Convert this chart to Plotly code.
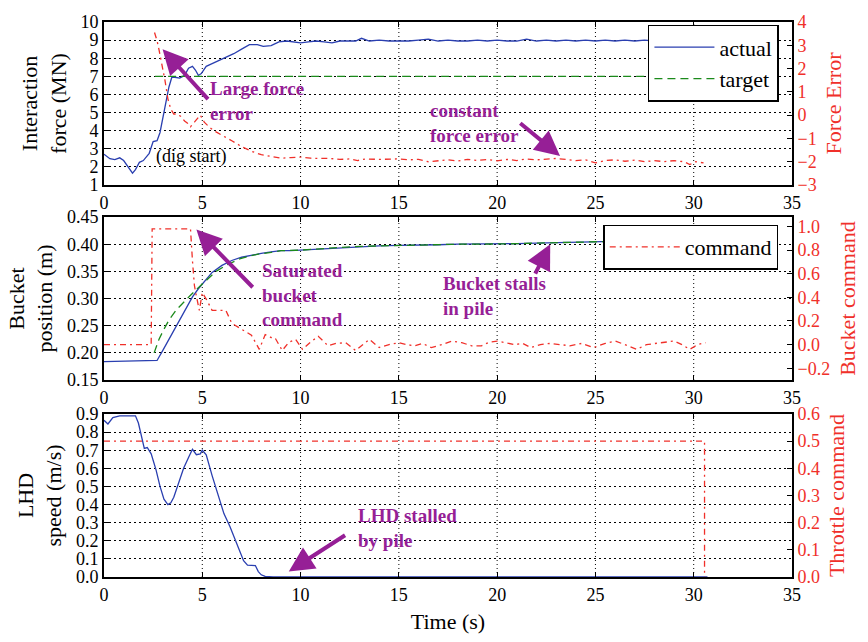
import plotly.graph_objects as go

# ---------------- data ----------------
t_force = [0, 0.3, 0.55, 0.8, 1.0, 1.2, 1.45, 1.6, 1.8, 2.0, 2.3, 2.5, 2.7, 2.85, 3.0, 3.15, 3.3, 3.45,
           3.6, 3.85, 4.1, 4.3, 4.5, 4.65, 4.8, 4.95, 5.2, 5.5, 5.8, 6.2, 6.6, 7.0, 7.4, 7.8, 8.1, 8.5,
           8.9, 9.3, 9.7, 10.0, 10.4, 10.8, 11.2, 11.6, 12.0, 12.4, 12.8, 13.1, 13.5, 14.0, 14.5, 15.0,
           15.5, 16.0, 16.5, 17.0, 17.5, 18.0, 18.5, 19.0, 19.5, 20.0, 20.5, 21.0, 21.5, 22.0, 22.5,
           23.0, 23.5, 24.0, 24.5, 25.0, 25.5, 26.0, 26.5, 27.0, 27.5, 28.0, 29.0, 30.0, 30.7]
force_actual = [2.7, 2.45, 2.4, 2.5, 2.35, 2.05, 1.65, 1.85, 2.25, 2.35, 2.75, 3.4, 3.45, 3.9, 4.8, 5.7,
                6.4, 6.95, 6.95, 6.9, 7.05, 7.45, 7.55, 7.35, 7.05, 7.15, 7.55, 7.7, 7.85, 8.05, 8.25,
                8.5, 8.75, 8.75, 8.65, 8.7, 8.9, 8.95, 8.9, 8.85, 8.9, 8.95, 8.9, 8.85, 8.95, 8.95, 8.95,
                9.1, 8.95, 9.0, 8.95, 8.95, 8.95, 9.0, 9.05, 8.95, 9.0, 8.95, 8.95, 9.0, 8.95, 9.0, 8.95,
                8.95, 9.05, 8.95, 9.0, 8.95, 9.0, 8.95, 9.0, 8.95, 9.0, 8.95, 9.0, 8.95, 9.0, 8.95, 8.95,
                9.0, 8.95]
t_target = [2.6, 30.7]
force_target = [7.0, 7.0]

t_err = [2.57, 2.7, 2.8, 2.9, 3.0, 3.1, 3.25, 3.4, 3.55, 3.7, 3.9, 4.1, 4.25, 4.4, 4.6, 4.8, 4.9, 5.1,
         5.4, 5.7, 6.1, 6.5, 7.0, 7.5, 8.0, 8.5, 9.0, 9.5, 10.0, 10.5, 11.0, 11.5, 12.0, 12.5, 12.9,
         13.3, 14.0, 14.5, 15.0, 15.5, 16.0, 16.5, 17.0, 17.5, 18.0, 18.5, 19.0, 19.5, 20.0, 20.5,
         21.0, 21.5, 22.0, 22.5, 23.0, 23.5, 24.0, 24.5, 25.0, 25.5, 26.0, 26.5, 27.0, 27.5, 28.0,
         28.5, 29.0, 29.5, 29.8, 30.1, 30.5]
force_error = [3.55, 3.2, 2.8, 2.4, 2.05, 1.5, 0.7, 0.25, 0.05, 0.05, -0.05, -0.25, -0.35, -0.5, -0.3,
               -0.1, 0.0, -0.3, -0.55, -0.72, -0.9, -1.1, -1.35, -1.55, -1.7, -1.78, -1.85, -1.82,
               -1.8, -1.85, -1.84, -1.86, -1.9, -1.88, -1.95, -1.88, -1.9, -1.88, -1.88, -1.92, -1.9,
               -2.0, -1.95, -1.92, -1.97, -1.9, -1.95, -1.9, -1.96, -1.9, -1.95, -1.88, -1.92, -1.9,
               -1.86, -1.9, -1.95, -1.92, -2.05, -1.95, -1.92, -1.98, -1.93, -2.0, -1.95, -2.0, -1.95,
               -2.0, -2.12, -2.0, -2.05]

t_bpos = [0, 1.0, 2.0, 2.7, 3.0, 3.5, 4.0, 4.5, 4.8, 5.1, 5.5, 6.0, 6.5, 7.0, 7.5, 8.0, 8.5, 9.0, 9.5,
          10.0, 10.5, 11.0, 11.5, 12.0, 13.0, 14.0, 15.0, 16.0, 17.0, 18.0, 19.0, 20.0, 21.0, 22.0,
          23.0, 24.0, 25.0, 26.0, 27.0, 28.0, 29.0, 30.0, 30.7]
bucket_actual = [0.184, 0.185, 0.185, 0.186, 0.205, 0.238, 0.27, 0.303, 0.318, 0.33, 0.348, 0.361,
                 0.37, 0.376, 0.38, 0.383, 0.386, 0.388, 0.388, 0.389, 0.391, 0.392, 0.392, 0.394,
                 0.396, 0.397, 0.398, 0.398, 0.399, 0.4, 0.4, 0.4, 0.401, 0.402, 0.403, 0.404, 0.405,
                 0.406, 0.406, 0.406, 0.407, 0.407, 0.407]
t_btgt = [2.55, 2.8, 3.0, 3.3, 3.7, 4.0, 4.4, 4.8, 5.2, 5.7, 6.2, 6.9, 7.5, 7.9, 8.5, 9.0, 10.0, 11.0,
          12.0, 13.0, 14.0, 15.0, 16.0, 17.0, 18.0, 19.0, 20.0, 21.0, 22.0, 23.0, 24.0, 25.0, 26.0,
          27.0, 28.0, 29.0, 30.0, 30.7]
bucket_target = [0.2, 0.225, 0.24, 0.26, 0.28, 0.292, 0.306, 0.32, 0.334, 0.35, 0.361, 0.373, 0.379,
                 0.382, 0.385, 0.388, 0.389, 0.392, 0.394, 0.396, 0.397, 0.398, 0.398, 0.399, 0.4,
                 0.4, 0.4, 0.401, 0.402, 0.403, 0.404, 0.405, 0.406, 0.406, 0.406, 0.407, 0.407, 0.407]

t_bcmd = [0, 2.4, 2.45, 4.4, 4.5, 4.6, 4.7, 4.85, 5.0, 5.2, 5.5, 6.2, 6.5, 6.9, 7.2, 7.5, 7.9, 8.2,
          8.5, 8.7, 9.07, 9.4, 9.75, 10.1, 10.5, 10.9, 11.4, 11.8, 12.3, 12.8, 13.5, 14.0, 14.5, 15.0,
          15.4, 15.8, 16.2, 16.65, 17.2, 17.7, 18.2, 18.7, 19.2, 19.6, 20.0, 20.5, 20.9, 21.3, 21.7,
          22.2, 22.7, 23.2, 23.7, 24.3, 24.9, 25.5, 26.0, 26.5, 27.1, 27.6, 28.0, 28.5, 29.0, 29.4,
          29.8, 30.2, 30.6]
bucket_cmd = [0.0, 0.0, 0.98, 0.98, 0.71, 0.5, 0.41, 0.29, 0.44, 0.385, 0.29, 0.29, 0.18, 0.14, 0.11,
              0.08, -0.04, 0.085, 0.06, 0.057, -0.05, 0.02, 0.044, -0.04, 0.02, 0.07, -0.01, 0.01,
              0.016, -0.05, 0.044, -0.025, 0.0, 0.016, 0.0, -0.01, 0.01, -0.025, 0.0, 0.03, 0.016,
              -0.01, -0.01, 0.02, 0.03, 0.01, 0.0, 0.01, -0.025, 0.0, 0.01, 0.0, -0.01, 0.01, -0.025,
              0.01, 0.03, 0.0, -0.04, 0.0, 0.01, 0.02, 0.03, 0.0, -0.04, 0.0, 0.016]

t_speed = [0, 0.2, 0.45, 0.8, 1.2, 1.6, 1.75, 1.9, 2.05, 2.2, 2.4, 2.65, 2.85, 3.05, 3.25, 3.4, 3.55,
           3.8, 4.05, 4.3, 4.5, 4.7, 4.9, 5.0, 5.2, 5.5, 5.8, 6.1, 6.4, 6.7, 6.9, 7.1, 7.3, 7.7, 7.85,
           8.0, 8.2, 8.6, 9.5, 10.0, 12.0, 15.0, 20.0, 25.0, 30.0, 30.7]
lhd_speed = [0.865, 0.845, 0.88, 0.89, 0.89, 0.89, 0.85, 0.77, 0.71, 0.715, 0.68, 0.59, 0.5, 0.43,
             0.4, 0.41, 0.44, 0.52, 0.6, 0.66, 0.705, 0.675, 0.68, 0.70, 0.675, 0.56, 0.45, 0.35,
             0.28, 0.2, 0.15, 0.09, 0.065, 0.063, 0.03, 0.012, 0.003, 0.0, 0.0, 0.0, 0.0, 0.0, 0.0,
             0.0, 0.0, 0.0]
t_throttle = [0, 30.55, 30.55]
throttle_cmd = [0.5, 0.5, 0.0]

x_ticks = [0, 5, 10, 15, 20, 25, 30, 35]

# ---------------- styles ----------------
BLUE = "#2a3fb0"
GREEN = "#1b8a1b"
RED = "#f0302a"
PURPLE = "#961f96"
FONT = "Liberation Serif"
DASHDOT = "6px,4px,2px,4px"
DASH = "8px,5px"
GRIDDASH = "1.5px,3.5px"

fig = go.Figure()

fig.add_trace(go.Scatter(x=t_force, y=force_actual, mode="lines", name="actual",
                         line=dict(color=BLUE, width=1.3), xaxis="x", yaxis="y", legend="legend"))
fig.add_trace(go.Scatter(x=t_target, y=force_target, mode="lines", name="target",
                         line=dict(color=GREEN, width=1.3, dash=DASH), xaxis="x", yaxis="y",
                         legend="legend"))
fig.add_trace(go.Scatter(x=t_err, y=force_error, mode="lines", name="force error", showlegend=False,
                         line=dict(color=RED, width=1.3, dash=DASHDOT), xaxis="x", yaxis="y2"))

fig.add_trace(go.Scatter(x=t_bpos, y=bucket_actual, mode="lines", showlegend=False,
                         line=dict(color=BLUE, width=1.3), xaxis="x2", yaxis="y3"))
fig.add_trace(go.Scatter(x=t_btgt, y=bucket_target, mode="lines", showlegend=False,
                         line=dict(color=GREEN, width=1.3, dash=DASH), xaxis="x2", yaxis="y3"))
fig.add_trace(go.Scatter(x=t_bcmd, y=bucket_cmd, mode="lines", name="command",
                         line=dict(color=RED, width=1.3, dash=DASHDOT), xaxis="x2", yaxis="y4",
                         legend="legend2"))

fig.add_trace(go.Scatter(x=t_speed, y=lhd_speed, mode="lines", showlegend=False,
                         line=dict(color=BLUE, width=1.3), xaxis="x3", yaxis="y5"))
fig.add_trace(go.Scatter(x=t_throttle, y=throttle_cmd, mode="lines", showlegend=False,
                         line=dict(color=RED, width=1.3, dash=DASHDOT), xaxis="x3", yaxis="y6"))

tickfont = dict(family=FONT, size=18, color="black")
redtick = dict(family=FONT, size=18, color=RED)
titlefont = dict(family=FONT, size=22, color="black")
redtitle = dict(family=FONT, size=22, color=RED)


def xax(anchor, title=None):
    d = dict(range=[0, 35], tickvals=x_ticks, anchor=anchor, domain=[0, 1], showline=True,
             linewidth=2, linecolor="black", mirror="ticks", ticks="inside", ticklen=5,
             tickcolor="black", showgrid=False, zeroline=False, tickfont=tickfont)
    if title:
        d["title"] = dict(text=title, font=titlefont, standoff=10)
    return d


def yax(dom, rng, dtick, fmt, title, anchor):
    return dict(domain=dom, range=rng, dtick=dtick, tickformat=fmt, anchor=anchor, showline=True,
                linewidth=2, linecolor="black", ticks="inside", ticklen=5, tickcolor="black",
                showgrid=True, gridcolor="black", griddash=GRIDDASH, gridwidth=1, zeroline=False,
                tickfont=tickfont, title=dict(text=title, font=titlefont, standoff=8))


def y2ax(over, anchor, rng, dtick, fmt, title):
    return dict(overlaying=over, anchor=anchor, side="right", range=rng, dtick=dtick,
                tickformat=fmt, showline=True, linewidth=2, linecolor="black", ticks="inside",
                ticklen=5, tickcolor="black", showgrid=False, zeroline=False, tickfont=redtick,
                title=dict(text=title, font=redtitle, standoff=10))


D_TOP = [0.7063, 1.0]
D_MID = [0.3549, 0.6486]
D_BOT = [0.0, 0.2937]

fig.update_layout(
    width=868, height=642,
    margin=dict(l=104, r=72, t=14, b=56),
    paper_bgcolor="white", plot_bgcolor="white",
    font=dict(family=FONT, size=18, color="black"),
    xaxis=xax("y"), xaxis2=xax("y3"), xaxis3=xax("y5", "Time (s)"),
    yaxis=yax(D_TOP, [1, 10], 1, "d", "Interaction<br>force (MN)", "x"),
    yaxis2=y2ax("y", "x", [-3, 4], 1, "d", "Force Error"),
    yaxis3=yax(D_MID, [0.15, 0.45], 0.05, ".2f", "Bucket<br>position (m)", "x2"),
    yaxis4=y2ax("y3", "x2", [-0.3, 1.08], 0.2, ".1f", "Bucket command"),
    yaxis5=yax(D_BOT, [0, 0.9], 0.1, ".1f", "LHD<br>speed (m/s)", "x3"),
    yaxis6=y2ax("y5", "x3", [0, 0.6], 0.1, ".1f", "Throttle command"),
    legend=dict(x=0.981, y=0.995, xanchor="right", yanchor="top", bgcolor="white",
                bordercolor="black", borderwidth=1.5, font=dict(family=FONT, size=22),
                itemwidth=60, tracegroupgap=0),
    legend2=dict(x=0.980, y=0.635, xanchor="right", yanchor="top", bgcolor="white",
                 bordercolor="black", borderwidth=1.5, font=dict(family=FONT, size=22),
                 itemwidth=70),
)

# vertical dotted grid lines at the inner x ticks of every panel, drawn as thin dotted traces
x_grid = x_ticks[1:-1]
y_ranges = {"y": [1, 10], "y3": [0.15, 0.45], "y5": [0, 0.9]}
for xr, yr in (("x", "y"), ("x2", "y3"), ("x3", "y5")):
    gx, gy = [], []
    for xv in x_grid:
        gx += [xv, xv, None]
        gy += [y_ranges[yr][0], y_ranges[yr][1], None]
    fig.add_trace(go.Scatter(x=gx, y=gy, mode="lines", showlegend=False, hoverinfo="skip",
                             line=dict(color="black", width=1, dash="1px,3px"),
                             xaxis=xr, yaxis=yr))
# move the grid traces to the back
fig.data = fig.data[-3:] + fig.data[:-3]

ann_font = dict(family=FONT, size=19, color=PURPLE)


def arrow(xref, yref, x, y, ax, ay):
    fig.add_annotation(x=x, y=y, ax=ax, ay=ay, xref=xref, yref=yref, axref=xref, ayref=yref,
                       text="", showarrow=True, arrowhead=2, arrowsize=1.25, arrowwidth=4,
                       arrowcolor=PURPLE)


def label(xref, yref, x, y, text):
    fig.add_annotation(x=x, y=y, xref=xref, yref=yref, text="<b>" + text + "</b>",
                       showarrow=False, xanchor="left", yanchor="middle", align="left",
                       font=ann_font)


arrow("x", "y", 2.98, 8.5, 5.36, 5.66)
label("x", "y", 5.3, 5.66, "Large force<br>error")
arrow("x", "y", 23.2, 2.6, 21.1, 4.48)
label("x", "y", 16.5, 4.43, "constant<br>force error")
arrow("x2", "y3", 4.7, 0.427, 7.64, 0.318)
label("x2", "y3", 7.95, 0.307, "Saturated<br>bucket<br>command")
arrow("x2", "y3", 22.7, 0.40, 21.9, 0.343)
label("x2", "y3", 17.15, 0.305, "Bucket stalls<br>in pile")
arrow("x3", "y5", 9.4, 0.03, 12.34, 0.236)
label("x3", "y5", 12.8, 0.273, "LHD stalled<br>by pile")

fig.add_annotation(x=2.55, y=2.6, xref="x", yref="y", text="(dig start)", showarrow=False,
                   xanchor="left", yanchor="middle", font=dict(family=FONT, size=18, color="black"))

fig.write_html("out.html")
